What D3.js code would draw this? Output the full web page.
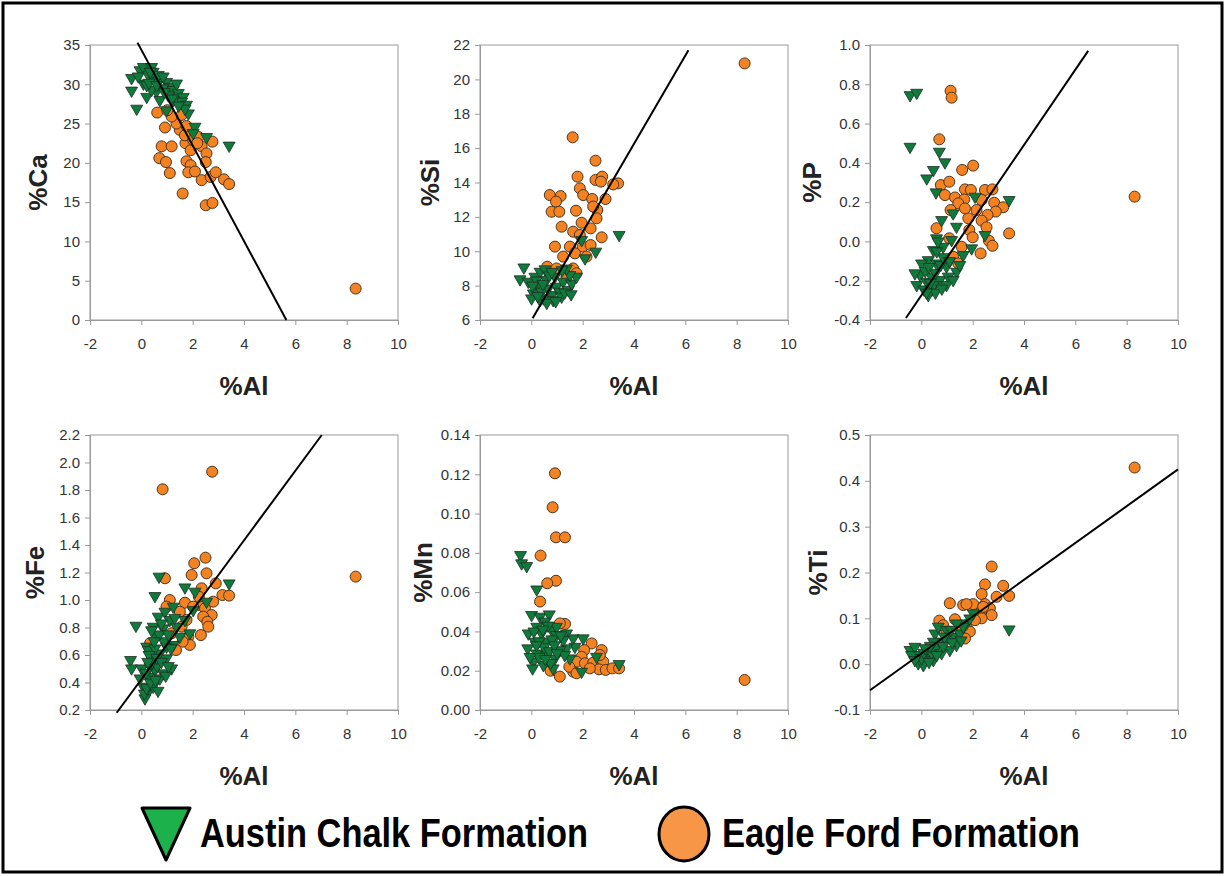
<!DOCTYPE html>
<html>
<head>
<meta charset="utf-8">
<script src="https://cdn.jsdelivr.net/npm/d3@7"></script>
<style>
  body { margin: 0; background: #fff; }
  svg { display: block; font-family: Arial, "Liberation Sans", sans-serif; }
  .tick text { font-size: 15px; fill: #333; }
  .tick line, .domain { stroke: #999; }
  .atitle { font-size: 26px; font-weight: bold; fill: #222; }
</style>
</head>
<body>
<svg id="chart" width="1225" height="876"></svg>
<script>
// x ticks shared by all panels
const alTicks = [-2, 0, 2, 4, 6, 8, 10]

// %Ca vs %Al
const eagleCa = [[8.35,4.0],[0.62,26.4],[0.92,24.5],[0.79,22.1],[1.18,22.1],[0.70,20.6],[0.96,20.1],[1.11,18.7],[1.61,16.1],[2.51,14.6],[2.77,14.9],[1.76,20.2],[1.92,19.7],[1.83,18.8],[2.09,18.9],[2.35,17.8],[2.70,18.2],[2.90,18.8],[3.22,17.9],[3.42,17.3],[2.77,22.7],[2.35,22.1],[2.54,21.2],[2.51,20.1],[1.72,22.5],[1.92,21.6],[1.50,24.2],[1.70,23.5],[1.37,25.0],[1.57,26.1],[1.18,25.9],[1.01,26.7],[2.02,22.9],[2.22,23.3],[2.18,22.5],[1.76,24.7]]
const austinCa = [[-0.38,30.8],[-0.38,29.2],[-0.18,26.9],[-0.05,31.8],[0.08,32.2],[0.40,32.2],[0.27,31.2],[0.21,28.4],[0.53,30.5],[0.72,30.8],[0.98,30.3],[1.11,29.7],[0.85,29.5],[0.59,29.1],[1.24,29.3],[1.44,28.9],[1.63,28.4],[1.57,27.8],[1.76,27.4],[1.83,26.3],[0.98,26.7],[1.24,28.0],[2.09,24.6],[2.02,23.8],[2.54,23.3],[3.42,22.2],[0.40,29.3],[0.08,30.1],[1.05,28.6],[0.72,28.0],[0.46,31.6],[0.66,31.2],[0.85,31.0],[-0.12,31.0],[0.21,29.9],[1.37,30.1],[1.70,26.9],[0.30,30.2],[0.60,29.9],[0.90,29.0],[1.20,28.2],[1.45,27.3],[0.35,31.6]]
const trendCa = [[-0.15,35.3],[5.65,0]]

// %Si vs %Al
const eagleSi = [[8.31,20.93],[1.61,16.63],[2.50,15.27],[1.80,14.34],[2.50,14.15],[2.76,14.34],[2.71,14.05],[3.38,13.95],[3.19,13.89],[0.72,13.27],[1.14,13.21],[0.96,12.89],[0.79,12.30],[1.09,12.30],[1.89,13.66],[2.02,13.27],[2.37,13.04],[2.89,13.04],[1.74,12.36],[2.57,12.40],[2.54,11.92],[1.96,11.66],[2.31,11.33],[1.18,11.43],[1.63,11.14],[2.74,10.81],[1.89,10.95],[0.92,10.27],[1.50,10.27],[2.0,10.27],[2.31,10.36],[1.24,9.69],[1.70,9.88],[0.62,9.10],[0.98,9.0],[1.63,9.0],[1.37,8.52],[1.76,8.72],[2.41,12.6],[2.15,9.69]]
const austinSi = [[3.42,10.95],[2.51,9.98],[2.09,9.59],[1.96,10.65],[-0.29,9.06],[-0.44,8.37],[-0.12,8.23],[0.14,8.52],[0.34,8.81],[0.53,8.95],[0.21,7.94],[0.08,7.55],[0.40,7.65],[0.47,7.26],[0.79,7.45],[0.66,7.84],[0.98,7.94],[1.24,8.23],[1.11,7.65],[0.85,7.16],[1.44,7.75],[1.57,8.13],[1.76,8.52],[1.50,8.62],[0.59,8.33],[0.92,8.52],[0.01,7.26],[0.34,7.16],[1.18,7.36],[1.37,9.0],[0.20,8.3],[0.45,8.1],[0.70,8.6],[0.25,7.4],[0.60,7.0],[0.95,7.1],[1.30,7.6],[1.55,7.5],[0.80,8.8],[1.20,8.9],[0.05,8.0]]
const trendSi = [[0.05,6.1],[6.12,21.7]]

// %P vs %Al
const eagleP = [[8.31,0.228],[1.14,0.767],[1.18,0.732],[0.70,0.520],[1.59,0.364],[2.02,0.386],[0.76,0.287],[1.09,0.304],[0.92,0.236],[1.31,0.224],[1.70,0.265],[1.93,0.262],[1.67,0.214],[2.48,0.262],[2.77,0.265],[2.84,0.197],[2.35,0.211],[3.19,0.174],[2.90,0.152],[2.58,0.135],[2.35,0.106],[2.54,0.072],[1.83,0.118],[1.87,0.058],[1.44,0.194],[1.14,0.160],[0.59,0.067],[1.09,0.016],[2.0,0.021],[2.63,0.004],[2.77,-0.022],[3.42,0.041],[2.31,-0.061],[1.57,-0.027],[1.24,-0.078],[1.44,-0.112],[2.15,0.16],[1.70,0.168]]
const austinP = [[-0.44,0.745],[-0.18,0.757],[-0.44,0.482],[0.70,0.457],[0.92,0.403],[0.47,0.364],[0.21,0.321],[0.57,0.250],[3.42,0.211],[2.09,0.228],[0.79,0.109],[1.24,0.143],[1.37,0.075],[0.59,0.016],[1.18,0.007],[2.48,0.033],[1.96,-0.035],[1.63,-0.069],[0.85,-0.027],[0.47,-0.044],[0.27,-0.095],[0.59,-0.112],[0.98,-0.128],[1.37,-0.154],[1.50,-0.120],[-0.05,-0.171],[0.21,-0.205],[0.40,-0.179],[0.72,-0.196],[1.05,-0.179],[-0.18,-0.222],[0.10,-0.244],[0.40,-0.247],[0.27,-0.273],[0.47,-0.222],[0.98,-0.222],[1.24,-0.196],[0.01,-0.112],[-0.25,-0.162],[0.15,-0.15],[0.30,-0.13],[0.55,-0.16],[0.75,-0.12],[0.85,-0.08],[0.60,-0.05],[0.35,-0.21],[0.55,-0.26],[0.20,-0.26],[1.10,-0.10],[0.80,-0.24],[0.65,-0.00]]
const trendP = [[-0.6,-0.39],[6.5,0.97]]

// %Fe vs %Al
const eagleFe = [[8.35,1.170],[0.83,1.805],[2.76,1.933],[2.50,1.308],[2.06,1.267],[2.54,1.194],[1.96,1.182],[0.92,1.158],[2.90,1.121],[2.35,1.085],[3.16,1.036],[3.42,1.032],[2.80,0.988],[1.11,1.0],[1.70,0.98],[2.26,0.964],[2.48,0.939],[2.74,0.891],[2.41,0.879],[2.57,0.842],[2.61,0.806],[2.32,0.745],[0.98,0.952],[1.50,0.915],[1.76,0.855],[1.57,0.806],[1.83,0.733],[1.89,0.673],[1.61,0.697],[1.35,0.636],[1.18,0.758],[0.34,0.685],[2.02,0.952],[2.24,1.024]]
const austinFe = [[3.42,1.121],[0.69,1.170],[0.53,1.029],[1.70,1.092],[2.09,1.061],[2.54,0.988],[-0.21,0.813],[-0.42,0.564],[-0.38,0.503],[0.21,0.661],[0.46,0.806],[0.66,0.879],[0.92,0.915],[1.24,0.952],[1.11,0.855],[0.85,0.794],[0.59,0.733],[1.70,0.855],[1.89,0.758],[1.50,0.733],[1.24,0.673],[0.98,0.661],[0.72,0.612],[0.40,0.576],[0.98,0.576],[1.18,0.503],[0.85,0.467],[0.53,0.491],[0.27,0.442],[-0.05,0.430],[0.08,0.370],[0.27,0.333],[0.14,0.285],[0.46,0.370],[0.72,0.430],[0.01,0.503],[0.34,0.515],[0.27,0.636],[0.53,0.648],[1.37,0.806],[2.02,0.927],[0.12,0.32],[0.20,0.36],[0.35,0.40],[0.55,0.42],[0.62,0.52],[0.42,0.55],[0.18,0.47],[0.30,0.60],[0.60,0.58],[0.78,0.55],[0.88,0.70],[0.70,0.75],[0.50,0.70],[0.40,0.78],[0.78,0.83],[1.05,0.75],[1.15,0.65],[1.30,0.87],[0.95,0.45],[0.65,0.34],[1.05,0.52],[0.25,0.55]]
const trendFe = [[-0.96,0.18],[7.03,2.2]]

// %Mn vs %Al (no trend line)
const eagleMn = [[8.31,0.0153],[0.92,0.1205],[0.83,0.1032],[0.96,0.0879],[1.31,0.0879],[0.36,0.0786],[0.96,0.0658],[0.62,0.0645],[0.34,0.0552],[1.31,0.0438],[1.11,0.0441],[2.35,0.0339],[2.74,0.0305],[2.06,0.0305],[1.96,0.0271],[1.76,0.0246],[2.09,0.0238],[2.41,0.0241],[2.80,0.0246],[2.64,0.0207],[2.90,0.0204],[3.16,0.0212],[3.42,0.0212],[1.63,0.0195],[1.11,0.0170],[0.75,0.0200],[1.48,0.022],[2.28,0.0212],[2.67,0.028],[1.76,0.0187]]
const austinMn = [[-0.42,0.0789],[-0.38,0.0747],[-0.18,0.0733],[0.21,0.0614],[0.01,0.0484],[0.34,0.0475],[0.70,0.0487],[0.53,0.0450],[-0.12,0.0390],[0.21,0.0424],[0.40,0.0390],[0.79,0.0407],[0.98,0.0382],[1.37,0.0390],[1.63,0.0365],[2.02,0.0365],[1.70,0.0322],[1.37,0.0314],[1.11,0.0305],[0.59,0.0348],[0.14,0.0348],[-0.14,0.0314],[0.21,0.0288],[0.59,0.0280],[0.92,0.0263],[0.08,0.0246],[0.47,0.0229],[0.05,0.0212],[0.85,0.0212],[1.50,0.0263],[2.54,0.0271],[1.96,0.0195],[3.42,0.0234],[1.24,0.0356],[0.98,0.0424],[0.10,0.040],[0.30,0.035],[0.50,0.032],[0.70,0.030],[0.80,0.036],[0.30,0.027],[0.65,0.043],[0.90,0.033],[1.15,0.038],[0.45,0.041],[0.20,0.033],[0.75,0.024],[1.30,0.028],[0.55,0.026],[1.00,0.029],[-0.05,0.027]]

// %Ti vs %Al
const eagleTi = [[8.31,0.429],[2.74,0.213],[2.48,0.174],[3.19,0.171],[2.35,0.153],[2.93,0.147],[3.42,0.149],[1.11,0.133],[1.63,0.129],[2.02,0.131],[1.76,0.131],[2.48,0.131],[2.67,0.122],[2.28,0.111],[2.74,0.107],[2.35,0.100],[0.70,0.095],[1.31,0.098],[0.85,0.085],[1.50,0.078],[1.76,0.085],[1.89,0.071],[1.70,0.056],[1.37,0.056],[0.98,0.067],[2.09,0.096],[2.41,0.125]]
const austinTi = [[3.42,0.076],[2.02,0.111],[1.76,0.089],[-0.44,0.031],[-0.25,0.038],[-0.38,0.020],[-0.05,0.020],[-0.12,0.002],[0.08,-0.002],[0.27,0.031],[0.21,0.016],[0.47,0.009],[0.40,0.024],[0.59,0.038],[0.72,0.049],[0.98,0.053],[1.24,0.060],[1.37,0.042],[1.11,0.031],[0.79,0.024],[0.53,0.067],[0.66,0.082],[0.98,0.075],[1.50,0.067],[1.63,0.082],[1.37,0.089],[0.47,0.049],[0.01,0.013],[-0.25,0.009],[1.89,0.100],[0.10,0.025],[0.30,0.005],[0.60,0.020],[0.85,0.040],[1.20,0.048],[0.35,0.040],[0.15,0.035],[0.90,0.060],[1.55,0.052],[1.15,0.075]]
const trendTi = [[-2,-0.057],[10,0.425]]

const legendLabels = ["Austin Chalk Formation", "Eagle Ford Formation"]

const fix = s => s.replace("\u2212", "-")

// tx = centre of the rotated y title, relative to the plot's left edge
const panels = [
  {name: "%Ca", left: 90,  top: 45,  tx: -52, dom: [0, 35],     ticks: d3.range(0, 36, 5),       fmt: d3.format("d"),   austin: austinCa, eagle: eagleCa, trend: trendCa},
  {name: "%Si", left: 480, top: 45,  tx: -50, dom: [6, 22],     ticks: d3.range(6, 23, 2),       fmt: d3.format("d"),   austin: austinSi, eagle: eagleSi, trend: trendSi},
  {name: "%P",  left: 870, top: 45,  tx: -58, dom: [-0.4, 1.0], ticks: d3.range(-4, 11, 2).map(v => v / 10), fmt: d3.format(".1f"), austin: austinP, eagle: eagleP, trend: trendP},
  {name: "%Fe", left: 90,  top: 435, tx: -55, dom: [0.2, 2.2],  ticks: d3.range(2, 23, 2).map(v => v / 10),  fmt: d3.format(".1f"), austin: austinFe, eagle: eagleFe, trend: trendFe},
  {name: "%Mn", left: 480, top: 435, tx: -57, dom: [0, 0.14],   ticks: d3.range(0, 15, 2).map(v => v / 100), fmt: d3.format(".2f"), austin: austinMn, eagle: eagleMn, trend: null},
  {name: "%Ti", left: 870, top: 435, tx: -52, dom: [-0.1, 0.5], ticks: d3.range(-1, 6, 1).map(v => v / 10),  fmt: d3.format(".1f"), austin: austinTi, eagle: eagleTi, trend: trendTi}
]

const W = 308, H = 275
const orange = "#f58220", green = "#0f7a3c"

const svg = d3.select("#chart")

// outer frame
svg.append("rect")
  .attr("x", 3).attr("y", 3).attr("width", 1219).attr("height", 869)
  .attr("fill", "none").attr("stroke", "#000").attr("stroke-width", 3)

const tri = d3.symbol().type(d3.symbolTriangle).size(62)

panels.forEach(p => {
  const g = svg.append("g").attr("transform", `translate(${p.left},${p.top})`)
  const x = d3.scaleLinear().domain([-2, 10]).range([0, W])
  const y = d3.scaleLinear().domain(p.dom).range([H, 0])

  g.append("rect").attr("width", W).attr("height", H)
    .attr("fill", "none").attr("stroke", "#999")

  g.append("g").attr("transform", `translate(0,${H})`)
    .call(d3.axisBottom(x).tickValues(alTicks).tickSize(5).tickPadding(13).tickFormat(d => fix(d3.format("d")(d))))
  g.append("g")
    .call(d3.axisLeft(y).tickValues(p.ticks).tickSize(5).tickPadding(5).tickFormat(d => fix(p.fmt(d))))
  g.selectAll(".domain").attr("stroke", "#999")

  g.selectAll(".eagle").data(p.eagle).enter().append("circle")
    .attr("cx", d => x(d[0])).attr("cy", d => y(d[1])).attr("r", 5.5)
    .attr("fill", orange).attr("stroke", "#4a3520").attr("stroke-width", 1)

  g.selectAll(".austin").data(p.austin).enter().append("path")
    .attr("d", tri)
    .attr("transform", d => `translate(${x(d[0])},${y(d[1])}) rotate(180)`)
    .attr("fill", green).attr("stroke", "#1d2e22").attr("stroke-width", 0.8)

  if (p.trend) {
    g.append("path")
      .attr("d", d3.line().x(d => x(d[0])).y(d => y(d[1]))(p.trend))
      .attr("fill", "none").attr("stroke", "#000").attr("stroke-width", 2)
  }

  g.append("text").attr("class", "atitle")
    .attr("text-anchor", "middle")
    .attr("x", W / 2).attr("y", H + 75)
    .text("%Al")
  g.append("text").attr("class", "atitle")
    .attr("text-anchor", "middle")
    .attr("transform", `translate(${p.tx + 9},${H / 2}) rotate(-90)`)
    .text(p.name)
})

// legend
const lg = svg.append("g")
lg.append("path")
  .attr("d", "M142,808 L190,808 L166,860 Z")
  .attr("fill", "#1db14b").attr("stroke", "#000").attr("stroke-width", 3).attr("stroke-linejoin", "round")
lg.append("text")
  .attr("x", 200).attr("y", 847)
  .attr("textLength", 388).attr("lengthAdjust", "spacingAndGlyphs")
  .style("font-size", "40px").style("font-weight", "bold").attr("fill", "#000")
  .text(legendLabels[0])
lg.append("ellipse")
  .attr("cx", 684).attr("cy", 834).attr("rx", 25).attr("ry", 27)
  .attr("fill", "#f79646").attr("stroke", "#000").attr("stroke-width", 3)
lg.append("text")
  .attr("x", 722).attr("y", 847)
  .attr("textLength", 358).attr("lengthAdjust", "spacingAndGlyphs")
  .style("font-size", "40px").style("font-weight", "bold").attr("fill", "#000")
  .text(legendLabels[1])
</script>
</body>
</html>
